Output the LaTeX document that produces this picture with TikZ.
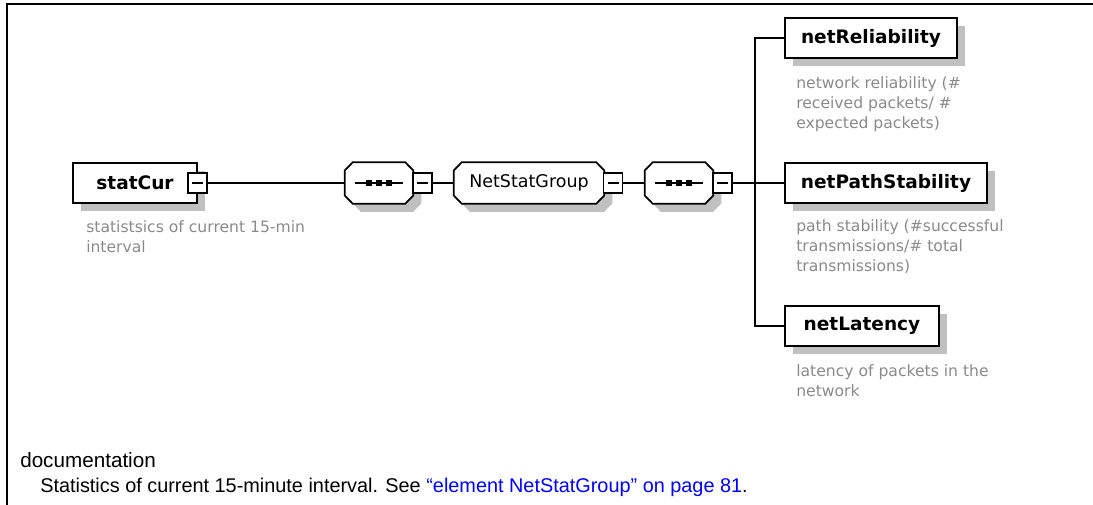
\documentclass[tikz,border=0pt]{standalone}
\usepackage{fontspec}
\setmainfont{Liberation Sans}
\newfontfamily\diagfont{DejaVu Sans}
\usetikzlibrary{shadows,backgrounds}
\definecolor{shadowgray}{RGB}{192,192,192}
\definecolor{descgray}{RGB}{138,138,138}
\definecolor{linkblue}{RGB}{0,0,255}

% octagon outline around a (rectangular) node, offset by (#2,#3)
\newcommand{\octpath}[3]{([shift={(#2,#3-12.5)}]#1.west) -- ([shift={(#2,#3+12.5)}]#1.west)
  -- ([shift={(#2+8,#3)}]#1.south west) -- ([shift={(#2-8,#3)}]#1.south east)
  -- ([shift={(#2,#3+12.5)}]#1.east) -- ([shift={(#2,#3-12.5)}]#1.east)
  -- ([shift={(#2-8,#3)}]#1.north east) -- ([shift={(#2+8,#3)}]#1.north west) -- cycle}

\begin{document}
\begin{tikzpicture}[x=0.75pt, y=-0.75pt,
  elem/.style={draw, line width=1.3pt, fill=white, minimum height=30pt, inner sep=0pt,
    font=\diagfont\bfseries\fontsize{13.9}{16}\selectfont,
    drop shadow={shadow xshift=6pt, shadow yshift=-6pt, fill=shadowgray, opacity=1}},
  octbox/.style={rectangle, minimum height=30.75pt, inner sep=0pt},
  grpbox/.style={octbox, font=\diagfont\fontsize{13.1}{16}\selectfont},
  expander/.style={draw, line width=1pt, fill=white, minimum width=14.25pt, minimum height=15pt, inner sep=0pt,
    path picture={\draw[line width=0.9pt] ([xshift=3pt]path picture bounding box.west) -- ([xshift=-3pt]path picture bounding box.east);}},
  conn/.style={line width=1.1pt},
  octline/.style={line width=1.3pt, fill=white},
  desc/.style={anchor=north west, inner sep=0pt, align=left, text=descgray,
    font=\diagfont\fontsize{11.7}{15}\selectfont}
]
\useasboundingbox (0,0) rectangle (1093,505);

% page frame
\draw[line width=1.5pt] (6.5,505) -- (6.5,4) -- (1093,4);

% root element
\node[elem, minimum width=93pt] (stat) at (135,183) {statCur};
\node[expander] (xstat) at (197.5,183) {};
\node[desc] (dstat) at (86,220.5) {statistsics of current 15-min\\interval};

% sequence, group, sequence
\node[octbox, minimum width=51pt] (s1) at (379,183) {};
\node[expander] (xs1) at (422.5,183) {};
\node[grpbox, minimum width=112.5pt] (grp) at (529,183) {NetStatGroup};
\node[expander] (xgrp) at (613,183) {};
\node[octbox, minimum width=51pt] (s2) at (679,183) {};
\node[expander] (xs2) at (722.5,183) {};

\begin{scope}[on background layer]
  \foreach \n in {s1,grp,s2}{
    \fill[shadowgray] \octpath{\n}{8}{8};
    \draw[octline] \octpath{\n}{0}{0};
  }
\end{scope}

% sequence compositor symbols
\foreach \n in {s1,s2}{
  \draw[line width=1.1pt] ([xshift=-18pt]\n.center) -- ([xshift=18pt]\n.center);
  \foreach \d in {-10,0,10}
    \fill ([shift={(\d-2.6,-2.6)}]\n.center) rectangle ([shift={(\d+2.6,2.6)}]\n.center);
}

% child elements
\node[elem, minimum width=129pt] (nrel) at (871,38) {netReliability};
\node[desc] (drel) at (796,76.5) {network reliability (\#\\received packets/ \#\\expected packets)};
\node[elem, minimum width=151.5pt] (npath) at (886,183) {netPathStability};
\node[desc] (dpath) at (796,219.5) {path stability (\#successful\\transmissions/\# total\\transmissions)};
\node[elem, minimum width=115.5pt] (nlat) at (862,326) {netLatency};
\node[desc] (dlat) at (796,364.5) {latency of packets in the\\network};

% connectors
\coordinate (trunk) at (755,183);
\draw[conn] (xstat.east) -- (s1.west);
\draw[conn] (xs1.east) -- (grp.west);
\draw[conn] (xgrp.east) -- (s2.west);
\draw[conn] (xs2.east) -- (npath.west);
\draw[conn] (nrel.west) -| (trunk) |- (nlat.west);

% documentation
\node[anchor=base west, inner sep=0pt, font=\fontsize{15.5}{18}\selectfont] (doctitle) at (20,468) {documentation};
\node[anchor=base west, inner sep=0pt, font=\fontsize{14.9}{17}\selectfont] (doctext) at (40,493)
  {Statistics of current 15-minute interval. See \textcolor{linkblue}{“element NetStatGroup” on page 81}.};
\end{tikzpicture}
\end{document}
